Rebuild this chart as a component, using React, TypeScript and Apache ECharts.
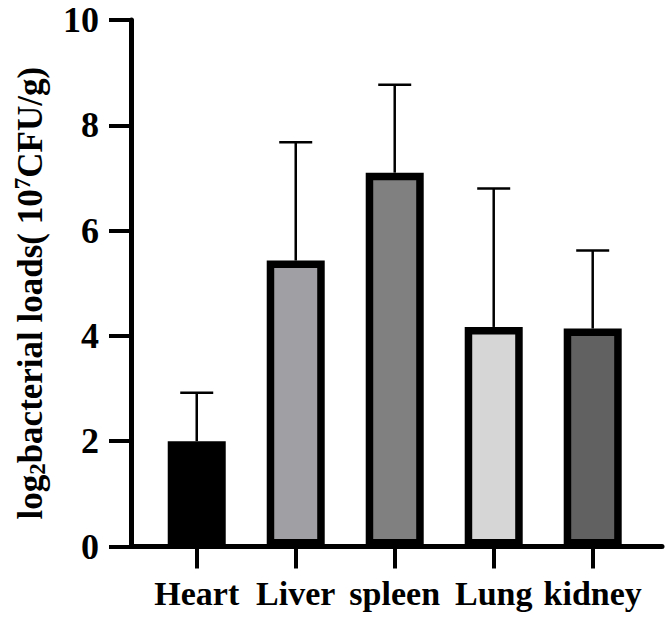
import React, { useEffect, useRef } from "react";
import * as echarts from "echarts";

const categories = ["Heart", "Liver", "spleen", "Lung", "kidney"];
const means = [2.0, 5.43, 7.1, 4.17, 4.14];
const sds = [0.92, 2.25, 1.67, 2.63, 1.48];
const barColors = ["#000000", "#a0a0a4", "#808080", "#d6d6d6", "#616161"];
const yTicks = [0, 2, 4, 6, 8, 10];

const FONT = "'Liberation Serif', 'Times New Roman', serif";

export default function App() {
  const ref = useRef<HTMLDivElement>(null);
  useEffect(() => {
    if (!ref.current) return;
    const chart = echarts.init(ref.current, null, { renderer: "svg" });
    const idx = categories.map((_, i) => i);
    chart.setOption({
      animation: false,
      backgroundColor: "#ffffff",
      grid: { left: 131, right: 7, top: 20, bottom: 72.5, containLabel: false },
      xAxis: {
        type: "value",
        min: -0.664,
        max: 4.7,
        splitLine: { show: false },
        axisLine: { show: true, onZero: false, lineStyle: { color: "#000", width: 5 } },
        axisTick: { show: true, customValues: idx, length: 22, lineStyle: { color: "#000", width: 4 } },
        axisLabel: {
          customValues: idx,
          formatter: (v: number) => categories[Math.round(v)] ?? "",
          color: "#000",
          fontFamily: FONT,
          fontWeight: "bold",
          fontSize: 34,
          margin: 30,
        },
      },
      yAxis: {
        type: "value",
        min: 0,
        max: 10,
        interval: 2,
        splitLine: { show: false },
        axisLine: { show: true, onZero: false, lineStyle: { color: "#000", width: 5 } },
        axisTick: { show: true, length: 22, lineStyle: { color: "#000", width: 4 } },
        axisLabel: {
          customValues: yTicks,
          color: "#000",
          fontFamily: FONT,
          fontWeight: "bold",
          fontSize: 36,
          margin: 32,
        },
        name: "{a|log}{s|2}{a|bacterial loads( 10}{p|7}{a|CFU/g)}",
        nameLocation: "middle",
        nameRotate: 90,
        nameGap: 80,
        nameTextStyle: {
          color: "#000",
          fontFamily: FONT,
          fontWeight: "bold",
          fontSize: 35,
          padding: [0, 20, 0, 0],
          rich: {
            a: { fontFamily: FONT, fontWeight: "bold", fontSize: 35, color: "#000", lineHeight: 42 },
            s: { fontFamily: FONT, fontWeight: "bold", fontSize: 23, color: "#000", verticalAlign: "bottom", lineHeight: 42, padding: [0, 0, 2, 0] },
            p: { fontFamily: FONT, fontWeight: "bold", fontSize: 23, color: "#000", verticalAlign: "top", lineHeight: 42, padding: [2, 0, 0, 0] },
          },
        },
      },
      series: [
        {
          type: "custom",
          z: 1,
          data: means.map((m, i) => [i, m, sds[i]]),
          renderItem: (params: any, api: any) => {
            const x = api.value(0);
            const y = api.value(1);
            const sd = api.value(2);
            const base = api.coord([x, y]);
            const top = api.coord([x, y + sd]);
            const hw = 16.5;
            return {
              type: "group",
              children: [
                { type: "line", shape: { x1: base[0], y1: base[1], x2: top[0], y2: top[1] }, style: { stroke: "#000", lineWidth: 2.5 } },
                { type: "line", shape: { x1: top[0] - hw, y1: top[1], x2: top[0] + hw, y2: top[1] }, style: { stroke: "#000", lineWidth: 2.5 } },
              ],
            };
          },
        },
        {
          type: "bar",
          z: 2,
          barWidth: 58,
          data: means.map((m, i) => ({
            value: [i, m],
            itemStyle: { color: barColors[i], borderColor: "#000", borderWidth: 7.5 },
          })),
        },
      ],
    });
    return () => chart.dispose();
  }, []);
  return <div ref={ref} style={{ position: "fixed", left: 0, top: 0, width: 669, height: 619, background: "#fff" }} />;
}
